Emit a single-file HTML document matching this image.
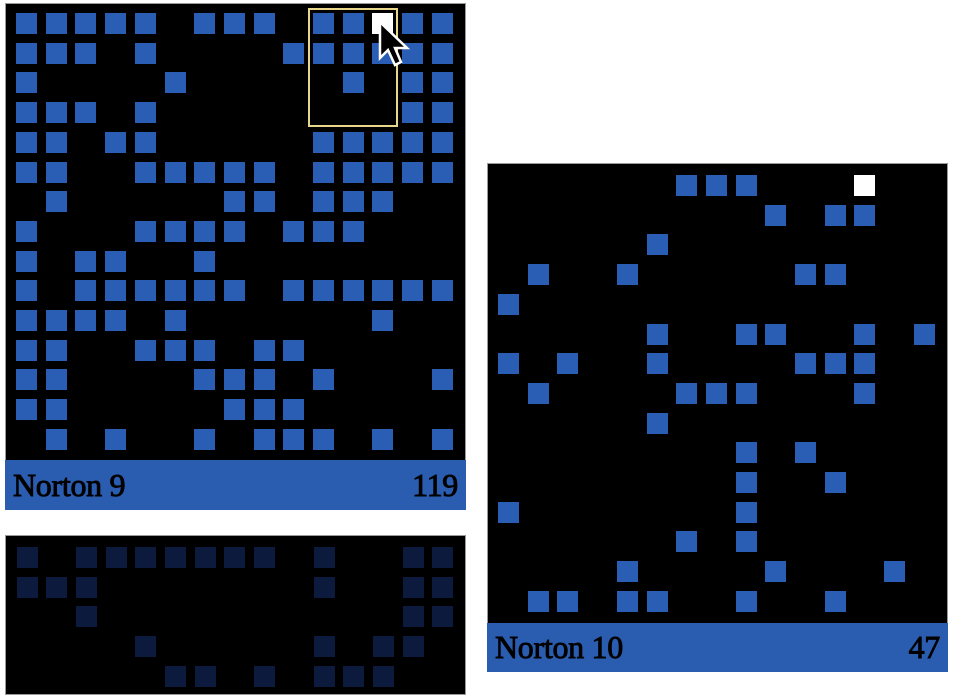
<!DOCTYPE html>
<html><head><meta charset="utf-8"><style>
body{margin:0;background:#fff;width:958px;height:687px;overflow:hidden;position:relative;font-family:"Liberation Serif",serif}
.panel{position:absolute;background:#000;border:1px solid #999;box-sizing:border-box}
.cell{position:absolute;width:21px;height:21px;background:#2a5eb4}
.bar{position:absolute;background:#2a5cb0;font-size:32px;color:#000;box-sizing:border-box;padding:0 8px;-webkit-text-stroke:0.9px #000;letter-spacing:-0.3px}
.bar span{position:absolute;bottom:6px}
</style></head><body>
<div class="panel" style="left:5px;top:3px;width:461px;height:458px"></div>
<div class="bar" style="left:5px;top:460px;width:461px;height:50px"><span style="left:8px">Norton 9</span><span style="right:8px">119</span></div>
<div class="panel" style="left:487px;top:163px;width:461px;height:461px"></div>
<div class="bar" style="left:487px;top:623px;width:461px;height:49px"><span style="left:8px">Norton 10</span><span style="right:8px">47</span></div>
<div class="panel" style="left:5px;top:535px;width:461px;height:160px"></div>
<div id="cells"></div>
<div style="position:absolute;left:308px;top:8px;width:90px;height:119px;border:2px solid #e8d68a;box-sizing:border-box"></div>
<svg style="position:absolute;left:378px;top:20px" width="34" height="50" viewBox="0 0 34 50"><path d="M2 2 L2 38 L10 30 L17 45 L23 42 L17 28 L29 28 Z" fill="#000" stroke="#fff" stroke-width="2.5"/></svg>
<script>
const grid9=[[0,1,2,3,4,6,7,8,10,11,13,14],[0,1,2,4,9,10,11,12,13,14],[0,5,11,13,14],[0,1,2,4,13,14],[0,1,3,4,10,11,12,13,14],[0,1,4,5,6,7,8,10,11,12,13,14],[1,7,8,10,11,12],[0,4,5,6,7,9,10,11],[0,2,3,6],[0,2,3,4,5,6,7,9,10,11,12,13,14],[0,1,2,3,5,12],[0,1,4,5,6,8,9],[0,1,6,7,8,10,14],[0,1,7,8,9],[1,3,6,8,9,10,12,14]];
const white9=[[0,12]];
const grid10=[[6,7,8],[9,11,12],[5],[1,4,10,11],[0],[5,8,9,12,14],[0,2,5,10,11,12],[1,6,7,8,12],[5],[8,10],[8,11],[0,8],[6,8],[4,9,13],[1,2,4,5,8,11]];
const white10=[[0,12]];
const gridFaded=[[0,2,3,4,5,6,7,8,10,13,14],[0,1,2,10,13,14],[2,13,14],[4,10,12,13],[5,6,8,10,11,12]];
const host=document.getElementById('cells');
function draw(g,x0,y0,color,name){g.forEach((row,r)=>row.forEach(c=>{const d=document.createElement('div');d.className='cell';


d.style.left=(x0+c*29.7)+'px';d.style.top=(y0+r*29.7)+'px';if(color)d.style.background=color;host.appendChild(d);}));}
function drawW(w,x0,y0,name){w.forEach(([r,c])=>{const d=document.createElement('div');d.className='cell';


d.style.left=(x0+c*29.7)+'px';d.style.top=(y0+r*29.7)+'px';d.style.background='#fff';host.appendChild(d);});}
draw(grid9,16,13,null,'norton-9-cell');drawW(white9,16,13,'norton-9-selected-cell');
draw(grid10,498,175,null,'norton-10-cell');drawW(white10,498,175,'norton-10-selected-cell');
draw(gridFaded,16.5,547,'#0c1b3d','faded-cell');
</script>
</body></html>
